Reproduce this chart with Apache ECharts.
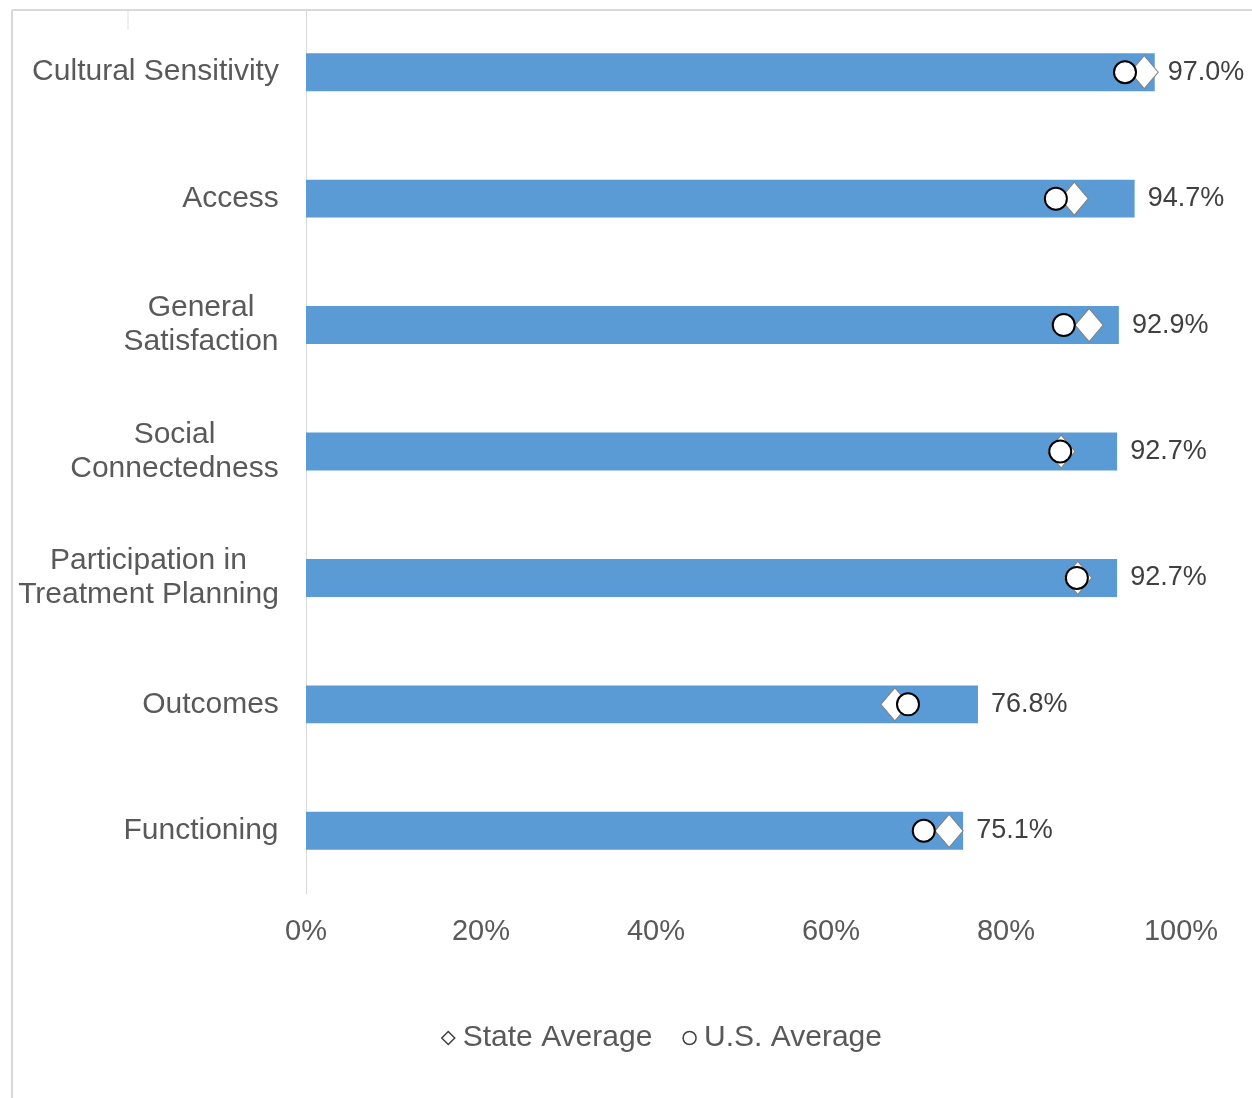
<!DOCTYPE html>
<html>
<head>
<meta charset="utf-8">
<script src="https://cdn.jsdelivr.net/npm/echarts@6/dist/echarts.min.js"></script>
<style>
  html, body { margin: 0; padding: 0; background: #fff; }
  #chart { width: 1252px; height: 1098px; }
</style>
</head>
<body>
<div id="chart"></div>
<script>
const categories = [
  'Cultural Sensitivity',
  'Access',
  'General\nSatisfaction',
  'Social\nConnectedness',
  'Participation in\nTreatment Planning',
  'Outcomes',
  'Functioning'
]
const scoreValues = [97.0, 94.7, 92.9, 92.7, 92.7, 76.8, 75.1]
const stateAverage = [95.8, 87.8, 89.5, 86.3, 88.2, 67.3, 73.5]
const usAverage = [93.6, 85.7, 86.6, 86.2, 88.1, 68.8, 70.6]
const xTicks = [0, 20, 40, 60, 80, 100]

const FONT = '"Liberation Sans", Arial, sans-serif'
const GREY = '#595959'

// measure label lines so two-line labels can be centred like Excel does
const ctx = document.createElement('canvas').getContext('2d')
ctx.font = '30px ' + FONT
const rich = {}
categories.forEach(function (c, i) {
  const w = Math.max.apply(null, c.split('\n').map(function (l) { return ctx.measureText(l).width }))
  rich['c' + i] = { width: Math.ceil(w) + 2, align: 'center', fontSize: 30, lineHeight: 34, color: GREY, fontFamily: FONT }
})

const chart = echarts.init(document.getElementById('chart'))

const option = {
  animation: false,
  backgroundColor: '#fff',
  textStyle: { fontFamily: FONT },
  grid: { left: 306, right: 71, top: 9, bottom: 204 },
  xAxis: {
    type: 'value',
    min: 0,
    max: 100,
    interval: 20,
    splitLine: { show: false },
    axisLine: { show: false },
    axisTick: { show: false },
    axisLabel: {
      margin: 23,
      fontSize: 29,
      color: GREY,
      formatter: function (v) { return xTicks.indexOf(v) >= 0 ? v + '%' : '' }
    }
  },
  yAxis: {
    type: 'category',
    inverse: true,
    data: categories,
    axisLine: { show: true, lineStyle: { color: '#d9d9d9', width: 1 } },
    axisTick: { show: false },
    axisLabel: {
      margin: 26,
      rich: rich,
      formatter: function (v, i) {
        return v.split('\n').map(function (l) { return '{c' + i + '|' + l + '}' }).join('\n')
      }
    }
  },
  legend: {
    bottom: 40,
    left: 436,
    itemGap: 30,
    itemWidth: 13,
    itemHeight: 13,
    textStyle: { fontSize: 30, color: GREY, fontFamily: FONT, padding: [0, 0, 0, 3] },
    data: [
      { name: 'State Average', icon: 'diamond', itemStyle: { color: '#fff', borderColor: '#404040', borderWidth: 1.5 } },
      { name: 'U.S. Average', icon: 'circle', itemStyle: { color: '#fff', borderColor: '#404040', borderWidth: 1.5 } }
    ]
  },
  graphic: [
    { type: 'line', shape: { x1: 12, y1: 10, x2: 12, y2: 1098 }, style: { stroke: '#d9d9d9', lineWidth: 2 } },
    { type: 'line', shape: { x1: 12, y1: 10, x2: 1252, y2: 10 }, style: { stroke: '#d9d9d9', lineWidth: 2 } },
    { type: 'line', shape: { x1: 128, y1: 10, x2: 128, y2: 30 }, style: { stroke: '#e0e0e0', lineWidth: 1 } }
  ],
  series: [
    {
      name: 'Score',
      type: 'bar',
      data: scoreValues,
      barWidth: '30%',
      itemStyle: { color: '#5B9BD5' },
      label: {
        show: true,
        position: 'right',
        distance: 13,
        fontSize: 27,
        color: '#404040',
        formatter: function (p) { return p.value.toFixed(1) + '%' }
      },
      z: 1
    },
    {
      name: 'State Average',
      type: 'scatter',
      data: stateAverage,
      symbol: 'diamond',
      symbolSize: [28, 33],
      itemStyle: { color: '#fff', borderColor: '#7f7f7f', borderWidth: 1, opacity: 1 },
      z: 3
    },
    {
      name: 'U.S. Average',
      type: 'scatter',
      data: usAverage,
      symbol: 'circle',
      symbolSize: 22,
      itemStyle: { color: '#fff', borderColor: '#000', borderWidth: 2, opacity: 1 },
      z: 4
    }
  ]
}

chart.setOption(option)
</script>
</body>
</html>
